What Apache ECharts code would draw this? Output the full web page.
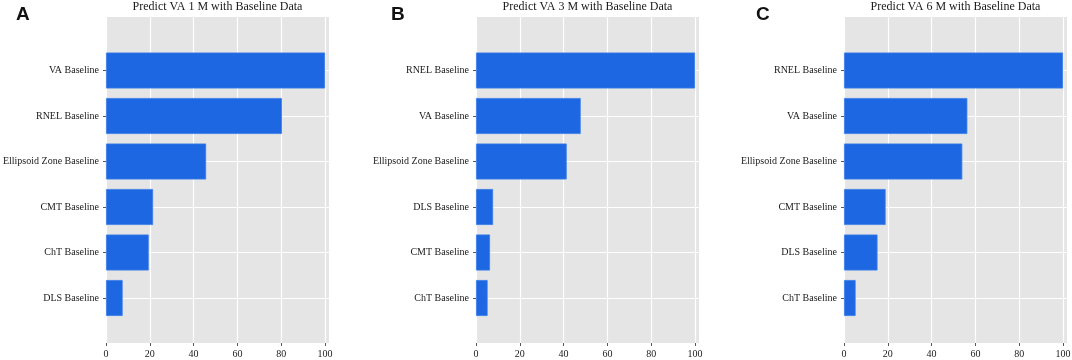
<!DOCTYPE html>
<html>
<head>
<meta charset="utf-8">
<script src="https://cdn.jsdelivr.net/npm/echarts@6/dist/echarts.min.js"></script>
<style>
  html, body { margin: 0; padding: 0; background: #fff; }
  #chart { width: 1072px; height: 360px; }
</style>
</head>
<body>
<div id="chart"></div>
<script>
// data
const catsA = ['VA Baseline', 'RNEL Baseline', 'Ellipsoid Zone Baseline', 'CMT Baseline', 'ChT Baseline', 'DLS Baseline'];
const valsA = [100, 80.3, 45.7, 21.5, 19.5, 7.6];

const catsB = ['RNEL Baseline', 'VA Baseline', 'Ellipsoid Zone Baseline', 'DLS Baseline', 'CMT Baseline', 'ChT Baseline'];
const valsB = [100, 47.8, 41.4, 7.8, 6.4, 5.3];

const catsC = ['RNEL Baseline', 'VA Baseline', 'Ellipsoid Zone Baseline', 'CMT Baseline', 'DLS Baseline', 'ChT Baseline'];
const valsC = [100, 56.3, 54.0, 19.0, 15.3, 5.3];

const xTicks = [0, 20, 40, 60, 80, 100];
const titles = ['Predict VA 1 M with Baseline Data', 'Predict VA 3 M with Baseline Data', 'Predict VA 6 M with Baseline Data'];
const letters = ['A', 'B', 'C'];

const panels = [
  { cats: catsA, vals: valsA, left: 106, letterX: 16 },
  { cats: catsB, vals: valsB, left: 476, letterX: 391 },
  { cats: catsC, vals: valsC, left: 844, letterX: 756 }
];

const SERIF = '"Liberation Serif", "Times New Roman", serif';
const SANS = '"Liberation Sans", Arial, sans-serif';
const PLOT_W = 223, X_MAX = 101.8;
const BG_TOP = 17, BG_H = 326;
const BAR_TOP = 70.5, BAR_H = 227.5;

const grid = [], xAxis = [], yAxis = [], series = [], title = [];

panels.forEach((p, i) => {
  // background grid: grey panel, vertical grid lines, x labels
  grid.push({ left: p.left, width: PLOT_W, top: BG_TOP, height: BG_H, show: true,
    backgroundColor: '#e5e5e5', borderWidth: 0, outerBoundsMode: 'none', containLabel: false });
  // bar grid
  grid.push({ left: p.left, width: PLOT_W, top: BAR_TOP, height: BAR_H, show: false,
    outerBoundsMode: 'none', containLabel: false });

  xAxis.push({
    gridIndex: 2 * i, type: 'value', min: 0, max: X_MAX,
    axisLine: { show: false },
    axisTick: { show: true, length: 3, lineStyle: { color: '#555', width: 1 }, customValues: xTicks },
    axisLabel: { customValues: xTicks, fontFamily: SERIF, fontSize: 10, color: '#1a1a1a', margin: 6 },
    splitLine: { show: true, lineStyle: { color: '#ffffff', width: 1.2 } }
  });
  yAxis.push({ gridIndex: 2 * i, type: 'value', show: false, splitLine: { show: false } });

  xAxis.push({ gridIndex: 2 * i + 1, type: 'value', min: 0, max: X_MAX, show: false,
    splitLine: { show: false } });
  yAxis.push({
    gridIndex: 2 * i + 1, type: 'category', data: p.cats, inverse: true, boundaryGap: false,
    axisLine: { show: false },
    axisTick: { show: true, length: 3, lineStyle: { color: '#555', width: 1 } },
    axisLabel: { fontFamily: SERIF, fontSize: 10, color: '#1a1a1a', margin: 7 },
    splitLine: { show: true, lineStyle: { color: '#ffffff', width: 1.2 } }
  });

  series.push({
    type: 'bar', xAxisIndex: 2 * i + 1, yAxisIndex: 2 * i + 1,
    data: p.vals, barWidth: 36, clip: false,
    itemStyle: { color: '#1e67e2', borderColor: '#3a7ee9', borderWidth: 0.8 },
    emphasis: { disabled: true }, animation: false
  });

  title.push({
    text: titles[i], left: p.left + PLOT_W / 2, top: 1, padding: 0, textAlign: 'center',
    textStyle: { fontFamily: SERIF, fontSize: 12, fontWeight: 'normal', color: '#1a1a1a' }
  });
  title.push({
    text: letters[i], left: p.letterX, top: 5, padding: 0,
    textStyle: { fontFamily: SANS, fontSize: 19, fontWeight: 'bold', color: '#111' }
  });
});

const chart = echarts.init(document.getElementById('chart'), null, { renderer: 'canvas' });
chart.setOption({
  animation: false,
  backgroundColor: '#ffffff',
  title: title,
  grid: grid,
  xAxis: xAxis,
  yAxis: yAxis,
  series: series
});
</script>
</body>
</html>
